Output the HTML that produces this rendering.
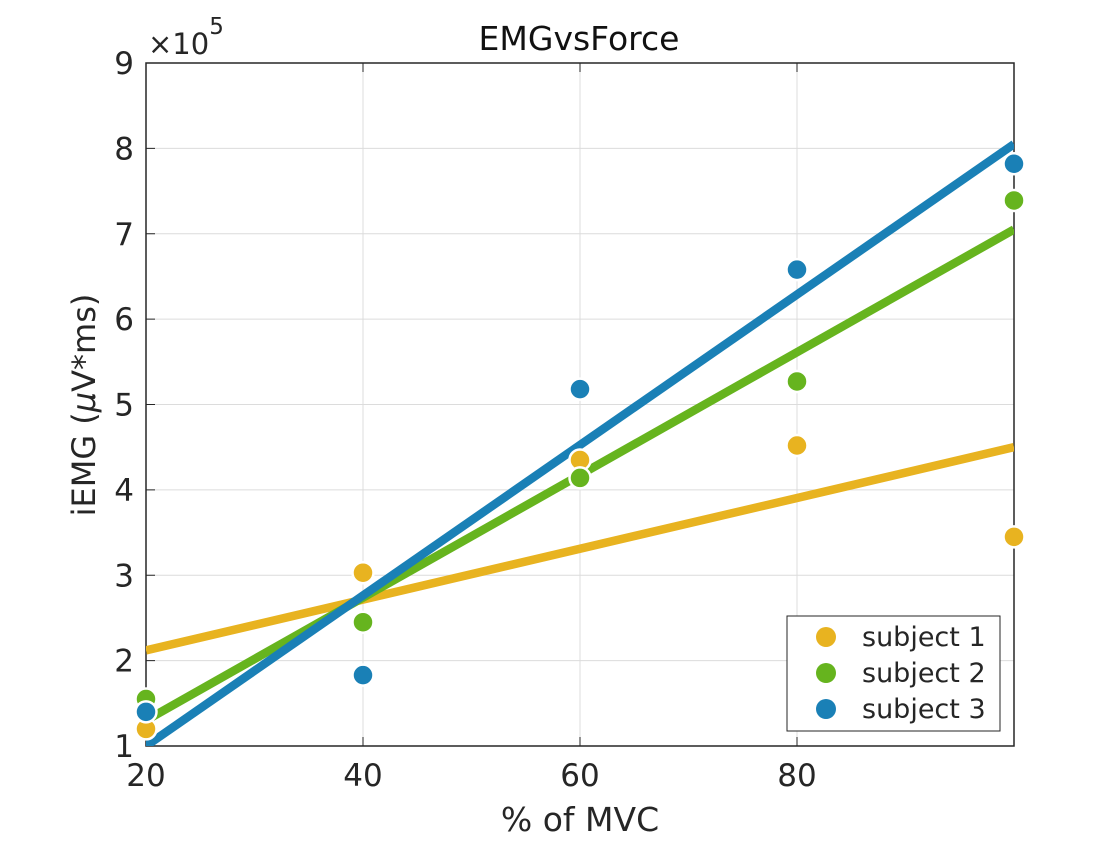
<!DOCTYPE html>
<html><head><meta charset="utf-8"><style>
body{margin:0;background:#fff;width:1120px;height:840px;overflow:hidden}
svg text{font-family:"DejaVu Sans","Liberation Sans",sans-serif;fill:#262626}
</style></head><body>
<svg id="chart" width="1120" height="840">
<defs><clipPath id="clip"><rect x="146" y="63" width="868" height="683"/></clipPath></defs>
<g id="grid"></g>
<g id="axes"></g>
<g id="lines" clip-path="url(#clip)"></g>
<g id="marks"></g>
<text x="579" y="50" text-anchor="middle" font-size="33" style="fill:#111">EMGvsForce</text>
<text x="580" y="831" text-anchor="middle" font-size="33">% of MVC</text>
<text transform="translate(95,405) rotate(-90)" text-anchor="middle" font-size="32">iEMG (<tspan font-style="italic">μ</tspan>V*ms)</text>
<text x="148" y="54" font-size="29">×10<tspan dy="-20" font-size="23">5</tspan></text>
<g>
<rect x="787" y="616" width="213" height="115" fill="#fff" stroke="#262626" stroke-width="1"/>
<g id="legend-entries"></g>
</g>
</svg>
<script>
const xValues=[20,40,60,80,100];
const subject1=[1.2,3.03,4.35,4.52,3.45];
const subject2=[1.55,2.45,4.14,5.27,7.39];
const subject3=[1.4,1.83,5.18,6.58,7.82];
const fit1=[2.12,4.5];
const fit2=[1.3,7.05];
const fit3=[1.0,8.05];
const xTicks=[20,40,60,80];
const yTicks=[1,2,3,4,5,6,7,8,9];
const seriesNames=["subject 1","subject 2","subject 3"];
const colors=["#E8B320","#66B41E","#1A80B6"];
const X=v=>146+(v-20)*(1014-146)/80;
const Y=v=>746-(v-1)*(746-63)/8;
const NS="http://www.w3.org/2000/svg";
function mk(tag,attrs,parent){const e=document.createElementNS(NS,tag);for(const k in attrs)e.setAttribute(k,attrs[k]);parent.appendChild(e);return e;}
const grid=document.getElementById('grid'),axes=document.getElementById('axes'),marks=document.getElementById('marks'),lines=document.getElementById('lines');
[40,60,80].forEach(v=>{const l=mk('line',{x1:X(v),x2:X(v),y1:Y(1),y2:Y(9),stroke:'#dcdcdc','stroke-width':1},grid);

});
yTicks.slice(1,-1).forEach(v=>{const l=mk('line',{x1:X(20),x2:X(100),y1:Y(v),y2:Y(v),stroke:'#dcdcdc','stroke-width':1},grid);

});
mk('rect',{x:X(20),y:Y(9),width:X(100)-X(20),height:Y(1)-Y(9),fill:'none',stroke:'#262626','stroke-width':1.5},axes);
xTicks.forEach(v=>{const t=mk('text',{x:X(v),y:786,'text-anchor':'middle','font-size':31},axes);t.textContent=v;


mk('line',{x1:X(v),x2:X(v),y1:Y(1),y2:Y(1)-9,stroke:'#262626'},axes);
mk('line',{x1:X(v),x2:X(v),y1:Y(9),y2:Y(9)+9,stroke:'#262626'},axes);});
yTicks.forEach(v=>{const t=mk('text',{x:134,y:Y(v)+11,'text-anchor':'end','font-size':31},axes);t.textContent=v;


mk('line',{x1:X(20),x2:X(20)+9,y1:Y(v),y2:Y(v),stroke:'#262626'},axes);});
const all=[subject1,subject2,subject3],fits=[fit1,fit2,fit3];
fits.forEach((f,i)=>{const l=mk('line',{x1:X(20),y1:Y(f[0]),x2:X(100),y2:Y(f[1]),stroke:colors[i],'stroke-width':8.5},lines);

});
all.forEach((s,i)=>{s.forEach((v,j)=>{const c=mk('circle',{cx:X(xValues[j]),cy:Y(v),r:10.5,fill:colors[i],stroke:'#fff','stroke-width':2.5},marks);

});});
const le=document.getElementById('legend-entries');
seriesNames.forEach((n,i)=>{const y=637+i*36;
const c=mk('circle',{cx:826,cy:y,r:10,fill:colors[i]},le);


const t=mk('text',{x:862,y:y+9,'font-size':27},le);t.textContent=n;

});
</script>
</body></html>
